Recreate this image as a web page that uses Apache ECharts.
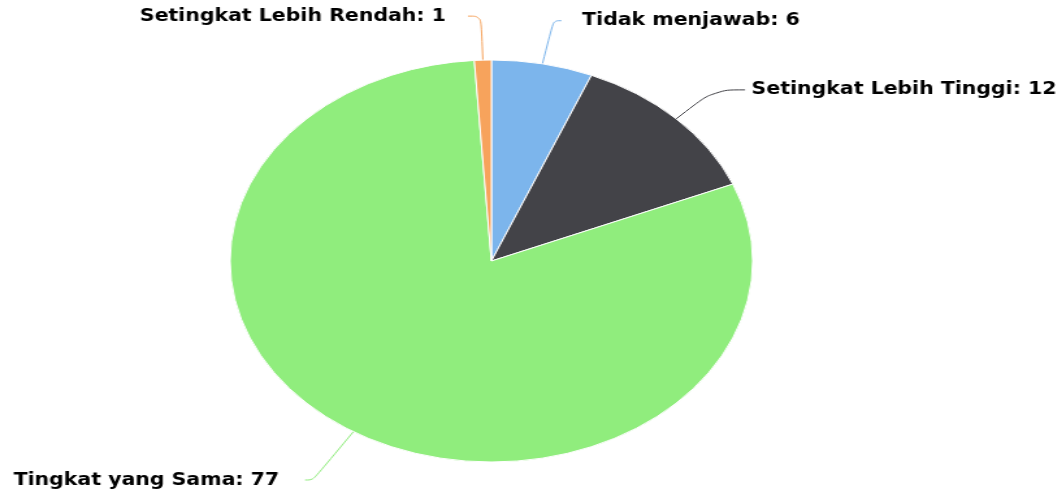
<!DOCTYPE html>
<html>
<head>
<meta charset="utf-8">
<script src="https://cdn.jsdelivr.net/npm/echarts@6/dist/echarts.min.js"></script>
<style>
  html, body { margin: 0; padding: 0; background: #fff; overflow: hidden; width: 1061px; height: 490px; }
  /* the pie is drawn as a circle and stretched sideways into an ellipse */
  #chart { width: 830px; height: 490px; transform: scaleX(1.3); transform-origin: 0 0; }
</style>
</head>
<body>
<div id="chart"></div>
<script>
// Answers, in drawing order (clockwise from the top)
const categories = ['Tidak menjawab', 'Setingkat Lebih Tinggi', 'Tingkat yang Sama', 'Setingkat Lebih Rendah'];
const values = [6, 12, 77, 1];
const colors = ['#7cb5ec', '#434348', '#90ed7d', '#f7a35c'];

// connector shape for each slice: [radial length, horizontal length, gap to text]
const connectors = [[44, 6, 16], [41, 24, 5], [59, 6, 20], [44, 10, 17]];

const chart = echarts.init(document.getElementById('chart'), null, { renderer: 'canvas' });

const data = categories.map((name, i) => ({
  name: name,
  value: values[i],
  itemStyle: { color: colors[i] },
  label: { distanceToLabelLine: connectors[i][2] },
  labelLine: { length: connectors[i][0], length2: connectors[i][1] }
}));

chart.setOption({
  animation: false,
  backgroundColor: '#ffffff',
  series: [{
    type: 'pie',
    center: [378, 261],
    radius: 201,
    startAngle: 90,
    clockwise: true,
    avoidLabelOverlap: true,
    itemStyle: { borderColor: '#ffffff', borderWidth: 1 },
    label: {
      show: true,
      position: 'outside',
      alignTo: 'none',
      bleedMargin: 0,
      overflow: 'none',
      formatter: '{b}: {c}',
      color: '#000000',
      fontFamily: '"DejaVu Sans Condensed", "DejaVu Sans"',
      fontWeight: 'bold',
      fontSize: 17.5
    },
    labelLine: {
      show: true,
      smooth: 0.4,
      lineStyle: { width: 1 }
    },
    emphasis: { disabled: true },
    data: data
  }]
});
</script>
</body>
</html>
